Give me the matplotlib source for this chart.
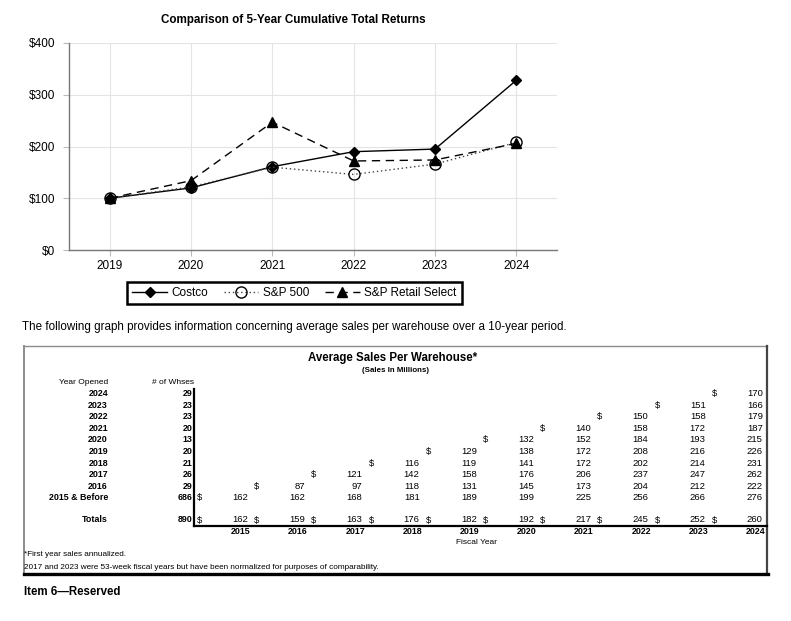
import matplotlib
matplotlib.use("Agg")
import matplotlib.pyplot as plt
from matplotlib import font_manager

# ---------------- data ----------------
years = ["2019", "2020", "2021", "2022", "2023", "2024"]
costco = [100, 120, 161, 190, 195, 328]
sp500 = [100, 122, 160, 146, 166, 208]
sp_retail = [100, 134, 247, 172, 174, 206]
y_ticks = [0, 100, 200, 300, 400]
y_tick_labels = ["$0", "$100", "$200", "$300", "$400"]

year_opened = ["2024", "2023", "2022", "2021", "2020", "2019", "2018", "2017", "2016", "2015 & Before"]
num_whses = [29, 23, 23, 20, 13, 20, 21, 26, 29, 686]
total_whses = 890
fiscal_years = ["2015", "2016", "2017", "2018", "2019", "2020", "2021", "2022", "2023", "2024"]
# sales per warehouse, starting at the fiscal year of opening
sales_rows = [
    [170],
    [151, 166],
    [150, 158, 179],
    [140, 158, 172, 187],
    [132, 152, 184, 193, 215],
    [129, 138, 172, 208, 216, 226],
    [116, 119, 141, 172, 202, 214, 231],
    [121, 142, 158, 176, 206, 237, 247, 262],
    [87, 97, 118, 131, 145, 173, 204, 212, 222],
    [162, 162, 168, 181, 189, 199, 225, 256, 266, 276],
]
totals = [162, 159, 163, 176, 182, 192, 217, 245, 252, 260]

# ---------------- fonts ----------------
names = {f.name for f in font_manager.fontManager.ttflist}
REG = ["Liberation Sans", "DejaVu Sans"]
HAS_NAR = "Liberation Sans Narrow" in names
NAR = (["Liberation Sans Narrow"] if HAS_NAR else []) + REG
plt.rcParams["font.family"] = REG

W, H = 791, 621
fig = plt.figure(figsize=(W / 100, H / 100), dpi=100)


def fx(x):
    return x / W


def fy(y):
    return 1 - y / H


# ---------------- top line chart ----------------
L, R, T, B = 69, 557, 43, 250
ax = fig.add_axes([fx(L), fy(B), (R - L) / W, (B - T) / H])
xs = list(range(len(years)))
ax.plot(xs, costco, color="black", lw=1.0, marker="D", ms=5.5, mfc="black", mec="black", zorder=3, label="Costco")
ax.plot(xs, sp500, color="#444444", lw=1.0, ls=(0, (1, 2)), marker="o", ms=8, mfc="none", mec="black",
        mew=1.0, zorder=4, label="S&P 500")
ax.plot(xs, sp_retail, color="black", lw=1.0, ls=(0, (6, 4)), marker="^", ms=7, mfc="black", mec="black",
        zorder=5, label="S&P Retail Select")
ax.set_xlim(-0.5, len(years) - 0.5)
ax.set_ylim(0, 400)
ax.set_xticks(xs)
ax.set_xticklabels(years, fontsize=8.5)
ax.set_yticks(y_ticks)
ax.set_yticklabels(y_tick_labels, fontsize=8.5)
ax.grid(True, color="#e4e4e4", lw=0.8)
ax.set_axisbelow(True)
for s in ["top", "right"]:
    ax.spines[s].set_visible(False)
for s in ["left", "bottom"]:
    ax.spines[s].set_color("#777777")
    ax.spines[s].set_linewidth(1.0)
ax.tick_params(axis="both", length=4, color="#bbbbbb")
ax.tick_params(axis="y", pad=6)
ax.tick_params(axis="x", pad=3)

handles, labels = ax.get_legend_handles_labels()
leg = fig.legend(handles, labels, loc="center", bbox_to_anchor=(fx(294.5), fy(293)), ncol=3,
                 frameon=True, fancybox=False, edgecolor="black", framealpha=1, fontsize=8.5,
                 handlelength=2.9, handletextpad=0.4, columnspacing=1.35, borderpad=0.45)
leg.get_frame().set_linewidth(1.8)

fig.text(fx(293), fy(20), "Comparison of 5-Year Cumulative Total Returns", ha="center", va="center",
         fontsize=8.4, fontweight="bold")

fig.text(fx(22), fy(327),
         "The following graph provides information concerning average sales per warehouse over a 10-year period.",
         ha="left", va="center", fontsize=8.4)

# ---------------- table chart ----------------
tax = fig.add_axes([0, 0, 1, 1])
tax.set_xlim(0, W)
tax.set_ylim(H, 0)
tax.axis("off")

BL, BR, BT, BB = 24, 767, 346, 574
tax.plot([BL, BR], [BT, BT], color="#8c8c8c", lw=1.0)
tax.plot([BL, BL], [BT, BB], color="#8c8c8c", lw=1.4)
tax.plot([BR, BR], [BT, BB], color="#444444", lw=1.6)
tax.plot([BL - 0.5, BR + 0.8], [BB, BB], color="black", lw=2.4)

tax.text(393, 358, "Average Sales Per Warehouse*", ha="center", va="center", fontsize=8.3,
         fontweight="bold", family=REG)

# sizes: narrow font if available, else shrink regular font to match widths
FS_LAB = 7.0 if HAS_NAR else 6.0
FS_NUM = 7.2 if HAS_NAR else 6.8
FS_YR = 7.0 if HAS_NAR else 6.4
FS_SUB = 6.5 if HAS_NAR else 5.7

tax.text(396, 370, "(Sales In Millions)", ha="center", va="center", fontsize=FS_SUB, fontweight="bold", family=NAR)

LAB_R = 108
CNT_R = 192.5
COL0 = 248
COLW = 57.2
ROW0 = 393.5
ROWH = 11.6
TOT_Y = 520

tax.text(LAB_R, 382, "Year Opened", ha="right", va="center", fontsize=FS_LAB, family=NAR)
tax.text(CNT_R + 1, 382, "# of Whses", ha="right", va="center", fontsize=FS_LAB, family=NAR)

n_fy = len(fiscal_years)
for r, (lab, cnt, vals) in enumerate(zip(year_opened, num_whses, sales_rows)):
    y = ROW0 + r * ROWH
    tax.text(LAB_R, y, lab, ha="right", va="center", fontsize=FS_YR, fontweight="bold", family=NAR)
    tax.text(CNT_R, y, str(cnt), ha="right", va="center", fontsize=FS_YR, fontweight="bold", family=NAR)
    start = n_fy - len(vals)
    for k, v in enumerate(vals):
        c = start + k
        xr = COL0 + c * COLW
        tax.text(xr, y, str(v), ha="right", va="center", fontsize=FS_NUM, family=NAR)
        if k == 0:
            tax.text(xr - 51, y, "$", ha="left", va="center", fontsize=FS_NUM, family=NAR)

tax.text(LAB_R, TOT_Y, "Totals", ha="right", va="center", fontsize=FS_YR, fontweight="bold", family=NAR)
tax.text(CNT_R, TOT_Y, str(total_whses), ha="right", va="center", fontsize=FS_YR, fontweight="bold", family=NAR)
for c, v in enumerate(totals):
    xr = COL0 + c * COLW
    tax.text(xr, TOT_Y, str(v), ha="right", va="center", fontsize=FS_NUM, family=NAR)
    tax.text(xr - 51, TOT_Y, "$", ha="left", va="center", fontsize=FS_NUM, family=NAR)

for c, fyl in enumerate(fiscal_years):
    xr = COL0 + c * COLW
    tax.text(xr + 2.5, 532, fyl, ha="right", va="center", fontsize=FS_YR, fontweight="bold", family=NAR)
tax.text(477, 543, "Fiscal Year", ha="center", va="center", fontsize=FS_LAB, family=NAR)

tax.plot([194, 194], [389, 526], color="black", lw=1.6)
tax.plot([194, BR], [526, 526], color="black", lw=1.6)

tax.text(BL, 554, "*First year sales annualized.", ha="left", va="center", fontsize=5.9, family=REG)
tax.text(BL, 567.5, "2017 and 2023 were 53-week fiscal years but have been normalized for purposes of comparability.",
         ha="left", va="center", fontsize=5.9, family=REG)

fig.text(fx(24), fy(592), "Item 6\u2014Reserved", ha="left", va="center", fontsize=8.3, fontweight="bold")

fig.savefig("out.png", dpi=100)
